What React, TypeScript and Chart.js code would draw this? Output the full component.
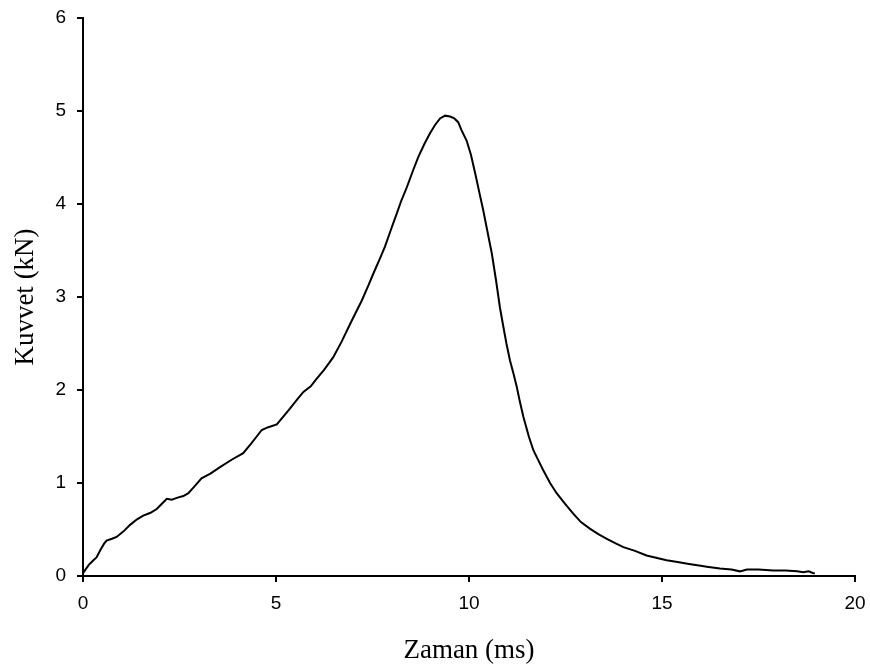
import React, { useEffect, useRef } from "react";
import { Chart, registerables } from "chart.js";

Chart.register(...registerables);

// Time (ms)
const timeMs: number[] = [
  0.0, 0.05, 0.15, 0.27, 0.35, 0.45, 0.55, 0.61, 0.75, 0.87,
  1.05, 1.22, 1.4, 1.56, 1.75, 1.91, 2.05, 2.17, 2.3, 2.43,
  2.6, 2.73, 2.9, 3.07, 3.3, 3.55, 3.85, 4.15, 4.35, 4.5,
  4.63, 4.8, 5.02, 5.2, 5.36, 5.55, 5.71, 5.9, 6.05, 6.25,
  6.48, 6.7, 6.92, 7.1, 7.22, 7.4, 7.52, 7.7, 7.82, 8.0,
  8.13, 8.25, 8.39, 8.55, 8.69, 8.85, 8.99, 9.12, 9.25, 9.38,
  9.51, 9.62, 9.72, 9.8, 9.94, 10.05, 10.16, 10.27, 10.37, 10.47,
  10.59, 10.7, 10.8, 10.89, 10.97, 11.06, 11.15, 11.24, 11.32, 11.41,
  11.55, 11.67, 11.8, 11.92, 12.1, 12.27, 12.5, 12.7, 12.9, 13.13,
  13.35, 13.57, 13.8, 14.0, 14.3, 14.6, 14.9, 15.12, 15.4, 15.7,
  16.0, 16.16, 16.5, 16.8, 17.02, 17.2, 17.5, 17.88, 18.2, 18.5,
  18.66, 18.8, 18.92, 18.96,
];

// Force (kN)
const forceKN: number[] = [
  0.03, 0.06, 0.12, 0.17, 0.2, 0.28, 0.35, 0.38, 0.4, 0.42,
  0.48, 0.55, 0.61, 0.65, 0.68, 0.72, 0.78, 0.83, 0.82, 0.84,
  0.86, 0.89, 0.97, 1.05, 1.1, 1.17, 1.25, 1.32, 1.42, 1.5,
  1.57, 1.6, 1.63, 1.72, 1.8, 1.9, 1.98, 2.04, 2.12, 2.22,
  2.35, 2.52, 2.71, 2.86, 2.96, 3.13, 3.25, 3.42, 3.54, 3.75,
  3.9, 4.04, 4.18, 4.36, 4.51, 4.65, 4.76, 4.85, 4.92, 4.95,
  4.94, 4.92, 4.88, 4.8, 4.68, 4.53, 4.33, 4.12, 3.93, 3.72,
  3.47, 3.18, 2.89, 2.68, 2.5, 2.32, 2.18, 2.03, 1.87, 1.71,
  1.5, 1.35, 1.24, 1.14, 1.0, 0.89, 0.77, 0.67, 0.58, 0.51,
  0.45, 0.4, 0.35, 0.31, 0.27, 0.22, 0.19, 0.17, 0.15, 0.13,
  0.11, 0.1, 0.08, 0.07, 0.05, 0.07, 0.07, 0.06, 0.06, 0.05,
  0.04, 0.05, 0.03, 0.03,
];

const xTitle = "Zaman (ms)";
const yTitle = "Kuvvet (kN)";

export default function App() {
  const canvasRef = useRef<HTMLCanvasElement | null>(null);

  useEffect(() => {
    if (!canvasRef.current) return;
    const points = timeMs.map((t, i) => ({ x: t, y: forceKN[i] }));
    const tickFont = { family: "'Liberation Sans', Arial, sans-serif", size: 19 };
    const titleFont = { family: "'Liberation Serif', 'Times New Roman', serif", size: 27 };
    const chart = new Chart(canvasRef.current, {
      type: "line",
      data: {
        datasets: [
          {
            data: points,
            borderColor: "#000",
            borderWidth: 2,
            pointRadius: 0,
            tension: 0,
            fill: false,
          },
        ],
      },
      options: {
        animation: false,
        responsive: false,
        layout: { padding: { left: 0, top: 18, right: 15, bottom: 0 } },
        plugins: { legend: { display: false }, tooltip: { enabled: false } },
        scales: {
          x: {
            type: "linear",
            min: 0,
            max: 20,
            ticks: { stepSize: 5, color: "#000", font: tickFont, padding: 10, maxRotation: 0 },
            grid: { drawOnChartArea: false, drawTicks: true, tickLength: 6, color: "#000", lineWidth: 2 },
            border: { display: true, color: "#000", width: 2 },
            title: { display: true, text: xTitle, color: "#000", font: titleFont, padding: { top: 2, bottom: 2 } },
            afterFit: (scale: any) => {
              scale.height = 93;
              scale.paddingLeft = 0;
              scale.paddingRight = 0;
            },
          },
          y: {
            type: "linear",
            min: 0,
            max: 6,
            ticks: { stepSize: 1, color: "#000", font: tickFont, padding: 11 },
            grid: { drawOnChartArea: false, drawTicks: true, tickLength: 6, color: "#000", lineWidth: 2 },
            border: { display: true, color: "#000", width: 2 },
            title: { display: true, text: yTitle, color: "#000", font: titleFont, padding: { top: 10, bottom: 10 } },
            afterFit: (scale: any) => {
              scale.width = 83;
              scale.paddingTop = 0;
              scale.paddingBottom = 0;
            },
          },
        },
      },
    });
    return () => chart.destroy();
  }, []);

  return (
    <div style={{ position: "absolute", left: 0, top: 0, width: 870, height: 669, background: "#fff" }}>
      <canvas ref={canvasRef} width={870} height={669} style={{ display: "block" }} />
    </div>
  );
}
